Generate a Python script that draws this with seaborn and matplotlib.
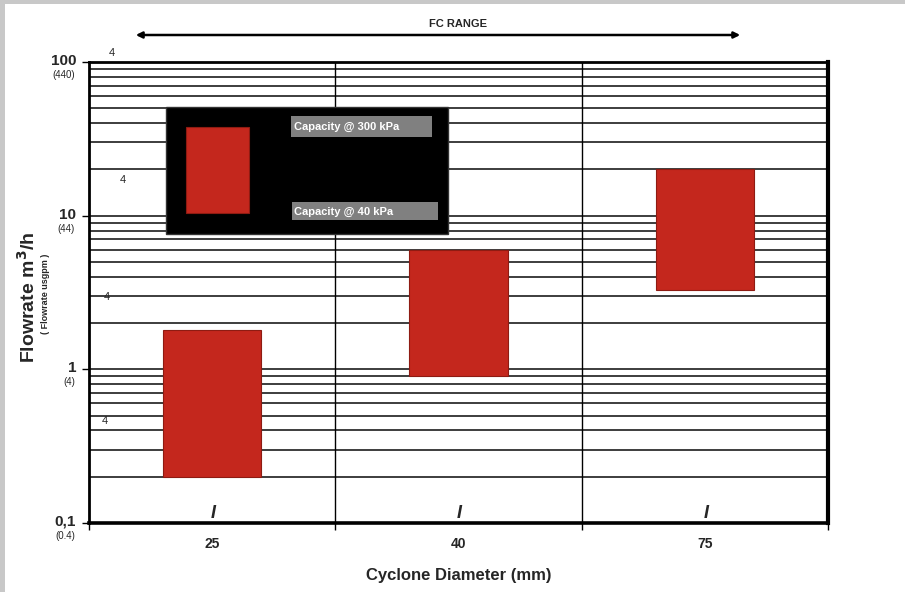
import matplotlib
matplotlib.use("Agg")
import matplotlib.pyplot as plt
from matplotlib.patches import Rectangle
from matplotlib.transforms import blended_transform_factory
import seaborn as sns
import pandas as pd
import numpy as np

# ---- data ----
diameters = ["25", "40", "75"]
cap_40kpa = [0.2, 0.9, 3.3]      # lower end of range (m3/h)
cap_300kpa = [1.8, 6.0, 20.0]    # upper end of range (m3/h)
major_vals = [0.1, 1, 10, 100]
major_labels = ["0,1", "1", "10", "100"]
usgpm_labels = ["(0.4)", "(4)", "(44)", "(440)"]
legend_labels = ["Capacity @ 300 kPa", "Capacity @ 40 kPa"]

sns.set_theme(style="white")
plt.rcParams["font.family"] = ["Liberation Sans", "DejaVu Sans"]

W, H = 905, 592
fig = plt.figure(figsize=(W / 100, H / 100), dpi=100)
fig.patch.set_facecolor("white")

def fx(px):
    return px / W

def fy(py):
    return 1 - py / H

# gray frame strips
fig.patches.append(Rectangle((0, 0), fx(5), 1, transform=fig.transFigure,
                             facecolor="#C8C8C8", edgecolor="none", zorder=0))
fig.patches.append(Rectangle((0, fy(4)), 1, 4 / H, transform=fig.transFigure,
                             facecolor="#C8C8C8", edgecolor="none", zorder=0))

ax = fig.add_axes([fx(89), fy(523), fx(828) - fx(89), fy(62) - fy(523)])
ax.set_facecolor("white")

df = pd.DataFrame({"Diameter": diameters, "High": cap_300kpa, "Low": cap_40kpa})
sns.barplot(data=df, x="Diameter", y="High", color="#C4271D", width=0.4,
            edgecolor="#8E1B12", linewidth=0.8, saturation=1, ax=ax, zorder=3)
for patch, lo, hi in zip(ax.patches, cap_40kpa, cap_300kpa):
    patch.set_y(lo)
    patch.set_height(hi - lo)

ax.set_yscale("log")
ax.set_ylim(0.1, 100)
ax.set_xlim(-0.5, 2.5)

# horizontal grid lines
grid_vals = []
for k in [-1, 0, 1]:
    for m in range(1, 10):
        v = m * 10.0 ** k
        if v > 0.1:
            grid_vals.append(v)
for v in grid_vals:
    ax.axhline(v, color="#2E2E2E", lw=1.3, zorder=1)
for xb in [0.5, 1.5]:
    ax.axvline(xb, color="black", lw=1.0, zorder=1)

# spines
for side, lw in [("left", 2.0), ("bottom", 2.6), ("top", 2.0), ("right", 3.0)]:
    ax.spines[side].set_visible(True)
    ax.spines[side].set_color("black")
    ax.spines[side].set_linewidth(lw)

# ticks
ax.set_yticks(major_vals)
ax.set_yticks([], minor=True)
ax.set_yticklabels([])
ax.tick_params(axis="y", which="major", direction="out", length=5, width=1,
               left=True, color="black")
ax.set_xticks(range(len(diameters)))
ax.set_xticklabels(diameters, fontsize=10, fontweight="bold")
ax.tick_params(axis="x", which="major", length=0, pad=10)
ax.set_xticks([-0.5, 0.5, 1.5, 2.5], minor=True)
ax.tick_params(axis="x", which="minor", direction="out", length=5, width=1,
               bottom=True, color="black")
ax.set_xlabel("Cyclone Diameter (mm)", fontsize=12, fontweight="bold", labelpad=12)
ax.set_ylabel("")

# y tick labels with usgpm equivalents
trans = blended_transform_factory(ax.transAxes, ax.transData)
for v, lab, sub in zip(major_vals, major_labels, usgpm_labels):
    ax.annotate(lab, xy=(0, v), xycoords=trans, xytext=(-13, 1),
                textcoords="offset pixels", ha="right", va="center",
                fontsize=11, fontweight="bold", annotation_clip=False)
    ax.annotate(sub, xy=(0, v), xycoords=trans, xytext=(-14, -13),
                textcoords="offset pixels", ha="right", va="center",
                fontsize=7, annotation_clip=False)

# y axis labels
fig.text(fx(28), fy(297), "Flowrate m$^\\mathbf{3}$/h", rotation=90, ha="center",
         va="center", fontsize=14, fontweight="bold")
fig.text(fx(45), fy(294), "( Flowrate usgpm )", rotation=90, ha="center",
         va="center", fontsize=6.5, fontweight="bold")

# stray "4" labels
for px, py in [(112, 53), (123, 180), (107, 297), (105, 421)]:
    fig.text(fx(px), fy(py), "4", ha="center", va="center", fontsize=8)

# "I" marks above categories
for i in range(len(diameters)):
    ax.annotate("I", xy=(i, 0.1), xycoords="data", xytext=(1, 1),
                textcoords="offset pixels", ha="center", va="bottom",
                fontsize=13, fontweight="bold", fontstyle="italic",
                annotation_clip=False)

# FC RANGE arrow
fig.text(fx(458), fy(24), "FC RANGE", ha="center", va="center",
         fontsize=8, fontweight="bold")
fig.add_artist(matplotlib.patches.FancyArrowPatch(
    (fx(133), fy(35)), (fx(743), fy(35)), transform=fig.transFigure,
    arrowstyle="<|-|>", mutation_scale=9, lw=1.8, color="black"))

# custom legend box
fig.patches.append(Rectangle((fx(166), fy(234)), fx(448) - fx(166), (234 - 107) / H,
                             transform=fig.transFigure, facecolor="black",
                             edgecolor="#333333", lw=1, zorder=5))
fig.patches.append(Rectangle((fx(186), fy(213)), fx(249) - fx(186), (213 - 127) / H,
                             transform=fig.transFigure, facecolor="#C4271D",
                             edgecolor="#8E1B12", lw=0.8, zorder=6))
fig.patches.append(Rectangle((fx(291), fy(137)), fx(432) - fx(291), (137 - 116) / H,
                             transform=fig.transFigure, facecolor="#808080",
                             edgecolor="none", zorder=6))
fig.patches.append(Rectangle((fx(292), fy(220)), fx(438) - fx(292), (220 - 202) / H,
                             transform=fig.transFigure, facecolor="#808080",
                             edgecolor="none", zorder=6))
fig.text(fx(294), fy(126.5), legend_labels[0], ha="left", va="center",
         fontsize=8, fontweight="bold", color="white", zorder=7)
fig.text(fx(294), fy(211.5), legend_labels[1], ha="left", va="center",
         fontsize=8, fontweight="bold", color="white", zorder=7)

fig.savefig("out.png", dpi=100, facecolor="white")
